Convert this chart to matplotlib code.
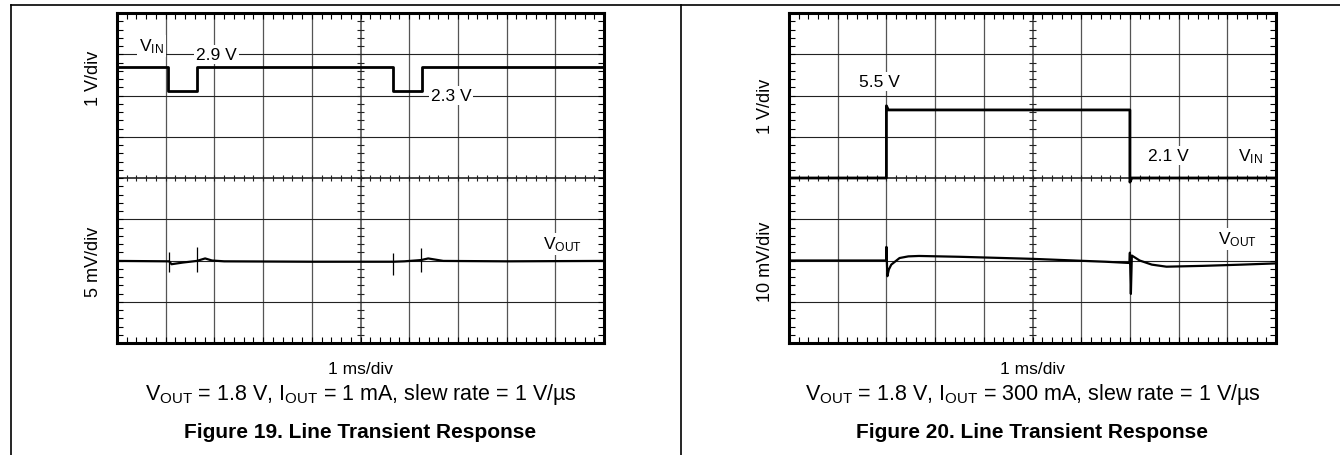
import numpy as np
import matplotlib.pyplot as plt
from matplotlib.lines import Line2D

plt.rcParams['font.family'] = ['Liberation Sans', 'DejaVu Sans']
plt.rcParams['mathtext.fontset'] = 'custom'
plt.rcParams['mathtext.rm'] = 'Liberation Sans'
plt.rcParams['mathtext.it'] = 'Liberation Sans:italic'

# scope screen is 10 x 8 divisions, traces are given in divisions
# Figure 19 - input steps 2.9 V -> 2.3 V
f19_vin_t = [0, 1.05, 1.05, 1.65, 1.65, 5.66, 5.66, 6.26, 6.26, 10]
f19_vin_v = [6.68, 6.68, 6.12, 6.12, 6.68, 6.68, 6.12, 6.12, 6.68, 6.68]
f19_vout_t = [0, 1.07, 1.12, 1.35, 1.64, 1.81, 1.95, 2.2, 4.0, 5.67, 5.9, 6.24, 6.39, 6.7, 8.0, 10]
f19_vout_v = [1.99, 1.98, 1.91, 1.95, 1.99, 2.05, 2.0, 1.98, 1.97, 1.97, 1.98, 2.01, 2.05, 1.99, 1.98, 1.99]
f19_spike_t = [1.07, 1.64, 5.67, 6.24]
f19_spike_lo = [1.72, 1.72, 1.65, 1.73]
f19_spike_hi = [2.21, 2.32, 2.17, 2.30]

# Figure 20 - input steps 2.1 V -> 5.5 V
f20_vin_t = [0, 2.0, 2.0, 2.04, 7.0, 7.0, 7.04, 10]
f20_vin_v = [4.0, 4.0, 5.75, 5.65, 5.65, 3.9, 4.0, 4.0]
f20_vout_t = [0, 2.0, 2.0, 2.02, 2.05, 2.1, 2.27, 2.45, 2.67, 3.5, 5.0, 6.5, 6.99, 7.0, 7.02,
              7.04, 7.2, 7.45, 7.75, 8.5, 9.3, 10]
f20_vout_v = [2.0, 2.0, 2.33, 1.62, 1.78, 1.9, 2.06, 2.1, 2.11, 2.09, 2.04, 1.97, 1.94, 2.19, 1.19,
              2.12, 2.0, 1.9, 1.85, 1.87, 1.9, 1.93]

panels = [
    dict(left=117, vin_t=f19_vin_t, vin_v=f19_vin_v, vout_t=f19_vout_t, vout_v=f19_vout_v,
         top_label='1 V/div', bot_label='5 mV/div', iout='1 mA', fig_no='19',
         labels=[(r'$\mathregular{V_{IN}}$', 0.71, 7.2), ('2.9 V', 2.05, 7.0),
                 ('2.3 V', 6.86, 6.0), (r'$\mathregular{V_{OUT}}$', 9.15, 2.4)],
         top_y=78),
    dict(left=789, vin_t=f20_vin_t, vin_v=f20_vin_v, vout_t=f20_vout_t, vout_v=f20_vout_v,
         top_label='1 V/div', bot_label='10 mV/div', iout='300 mA', fig_no='20',
         labels=[('5.5 V', 1.85, 6.34), ('2.1 V', 7.78, 4.55),
                 (r'$\mathregular{V_{IN}}$', 9.47, 4.53), (r'$\mathregular{V_{OUT}}$', 9.22, 2.52)],
         top_y=106),
]

W, H = 1340, 456
fig = plt.figure(figsize=(W / 100, H / 100), dpi=100)

# page frame
fig.add_artist(Line2D([10.5 / W, 1], [1 - 5.5 / H] * 2, color='black', lw=1.2))
fig.add_artist(Line2D([10.5 / W] * 2, [0, 1 - 5.5 / H], color='black', lw=1.2))
fig.add_artist(Line2D([681 / W] * 2, [0, 1 - 5.5 / H], color='black', lw=1.2))

gtop, gbot, gw = 14, 344, 487
minor_x = np.arange(0, 10.001, 0.2)
minor_y = np.arange(0, 8.001, 0.2)

for p in panels:
    ax = fig.add_axes([p['left'] / W, 1 - gbot / H, gw / W, (gbot - gtop) / H])
    ax.set_xlim(0, 10)
    ax.set_ylim(0, 8)
    for x in range(1, 10):
        ax.axvline(x, color='#555555', lw=1.2 if x == 5 else 0.9, zorder=1)
    for y in range(1, 8):
        ax.axhline(y, color='#222222', lw=1.2 if y == 4 else 0.8, zorder=1)
    ax.vlines(minor_x, 4 - 0.075, 4 + 0.075, color='#222222', lw=0.8, zorder=1)
    ax.hlines(minor_y, 5 - 0.065, 5 + 0.065, color='#222222', lw=0.8, zorder=1)
    ax.set_xticks([])
    ax.set_yticks([])
    ax.set_xticks(minor_x, minor=True)
    ax.set_yticks(minor_y, minor=True)
    ax.tick_params(which='minor', direction='in', length=4, width=0.8,
                   top=True, bottom=True, left=True, right=True,
                   labelbottom=False, labelleft=False)
    for s in ax.spines.values():
        s.set_linewidth(2.2)

    ax.plot(p['vin_t'], p['vin_v'], color='black', lw=2.0, zorder=3)
    ax.plot(p['vout_t'], p['vout_v'], color='black', lw=1.6, zorder=3)
    if p['fig_no'] == '19':
        ax.vlines(f19_spike_t, f19_spike_lo, f19_spike_hi, color='black', lw=0.9, zorder=3)

    for txt, x, y in p['labels']:
        ax.text(x, y, txt, ha='center', va='center', fontsize=12.5, zorder=4,
                bbox=dict(facecolor='white', edgecolor='none', pad=1.5))

    cx = (p['left'] + gw / 2) / W
    fig.text((p['left'] - 24) / W, 1 - p['top_y'] / H, p['top_label'], rotation=90,
             ha='center', va='center', fontsize=13)
    fig.text((p['left'] - 24) / W, 1 - 262 / H, p['bot_label'], rotation=90,
             ha='center', va='center', fontsize=13)
    fig.text(cx, 1 - 370 / H, '1 ms/div', ha='center', va='center', fontsize=12.5)
    fig.text(cx, 1 - 395 / H,
             r'$\mathregular{V_{OUT}}$ = 1.8 V, $\mathregular{I_{OUT}}$ = ' + p['iout'] +
             ', slew rate = 1 V/µs', ha='center', va='center', fontsize=15.5)
    fig.text(cx, 1 - 433 / H, 'Figure ' + p['fig_no'] + '. Line Transient Response',
             ha='center', va='center', fontsize=15, fontweight='bold')

fig.savefig('out.png', dpi=100)
